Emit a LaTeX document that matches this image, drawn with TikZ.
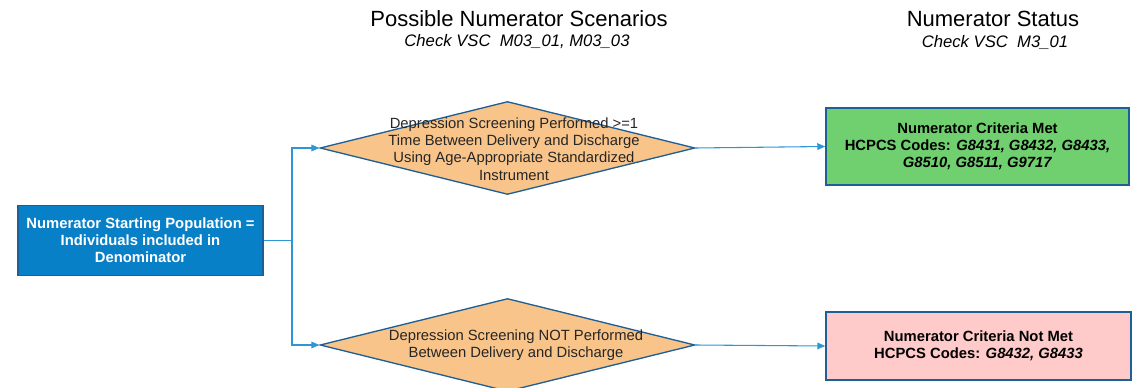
\documentclass[tikz,border=0pt]{standalone}
\usepackage{fontspec}
\setmainfont{Liberation Sans}
\usetikzlibrary{arrows.meta,%
	shapes.geometric}
\definecolor{startblue}{RGB}{8,128,200}
\definecolor{edgeblue}{RGB}{30,95,150}
\definecolor{linkblue}{RGB}{45,150,215}
\definecolor{decorange}{RGB}{248,196,138}
\definecolor{metgreen}{RGB}{112,208,112}
\definecolor{notmetpink}{RGB}{255,202,202}

\begin{document}
\begin{tikzpicture}[x=0.75pt,y=-0.75pt,
	head_text/.style={font=\fontsize{16.5}{20}\selectfont},
	sub_text/.style={font=\fontsize{12.5}{15}\selectfont\itshape},
	start_node/.style={rectangle,fill=startblue,draw=edgeblue,line width=1pt,minimum width=183.75pt,minimum height=52.5pt,text=white,align=center,font=\fontsize{11.1}{12.8}\selectfont\bfseries},
	dec_node/.style={diamond,fill=decorange,draw=edgeblue,line width=1pt,inner sep=0pt,minimum width=281.25pt,minimum height=69.75pt},
	dec_text/.style={align=center,font=\fontsize{11.1}{12.9}\selectfont,text=black!85},
	status_node/.style={rectangle,draw=edgeblue,line width=1.1pt,align=center,font=\fontsize{11.1}{12.9}\selectfont\bfseries},
	link/.style={draw=linkblue,line width=0.8pt,-{Triangle[length=6pt,width=5pt]}}]

		\useasboundingbox (0,0) rectangle (1133,388);

		\node[head_text] (head1) at (519,19) {Possible Numerator Scenarios};
		\node[sub_text] (sub1) at (517,42) {Check VSC\ \ M03\_01, M03\_03};
		\node[head_text] (head2) at (993,19) {Numerator Status};
		\node[sub_text] (sub2) at (995,42) {Check VSC\ \ M3\_01};

		\node[start_node] (start) at (140.5,240.5) {Numerator Starting Population =\\Individuals included in\\Denominator};

		\node[dec_node] (dec1) at (507.5,148) {};
		\node[dec_text] (dec1txt) at (514,149) {Depression Screening Performed >=1\\Time Between Delivery and Discharge\\Using Age-Appropriate Standardized\\Instrument};
		\node[dec_node] (dec2) at (507.5,345) {};
		\node[dec_text] (dec2txt) at (516,345) {Depression Screening NOT Performed\\Between Delivery and Discharge};

		\node[status_node,fill=metgreen,minimum width=227.25pt,minimum height=57.75pt] (met) at (977.5,146.5) {Numerator Criteria Met\\HCPCS Codes: \textit{G8431, G8432, G8433,}\\\textit{G8510, G8511, G9717}};
		\node[status_node,fill=notmetpink,minimum width=228.75pt,minimum height=51pt] (notmet) at (978.5,346) {Numerator Criteria Not Met\\HCPCS Codes: \textit{G8432, G8433}};

		\coordinate (split) at (292,240.5);

		\draw[link] (start.east) -- (split) |- (dec1.west);
		\draw[link] (split) |- (dec2.west);
		\draw[link] (dec1.east) -- (met.west);
		\draw[link] (dec2.east) -- (notmet.west);
\end{tikzpicture}
\end{document}
